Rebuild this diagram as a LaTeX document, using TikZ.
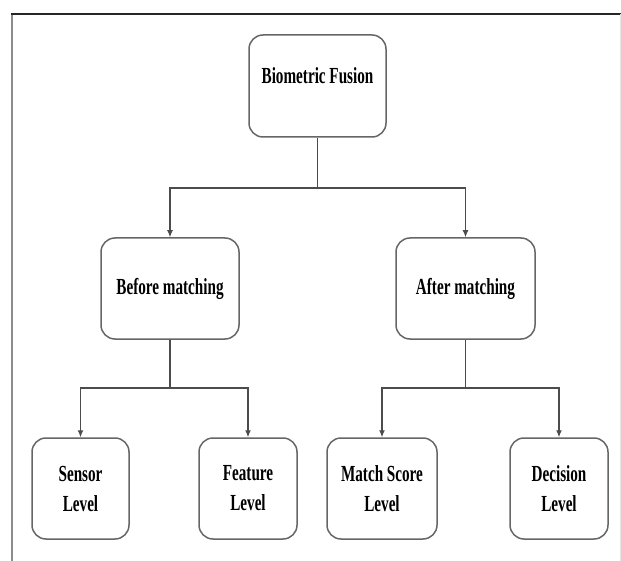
\documentclass[tikz,border=0pt]{standalone}
\usepackage{fontspec}
\newfontfamily\cf[FakeStretch=0.66]{Liberation Serif}
\usetikzlibrary{arrows.meta}
\tikzset{
  boxstyle/.style={draw=black!60, line width=1.5pt, rounded corners=14pt, inner sep=0pt,
    font=\cf\bfseries\fontsize{23}{30}\selectfont, align=center, text=black},
  arr/.style={draw=black!70, line width=1.2pt, -{Latex[length=7pt,width=6pt]}},
  ln/.style={draw=black!70, line width=1.2pt},
}
\begin{document}
\begin{tikzpicture}[x=1pt,y=-1pt]
\useasboundingbox (0,0) rectangle (621,561);
% frame
\draw[black!45, line width=2pt] (12,561) -- (12,14);
\draw[black!85, line width=1.6pt] (11,14) -- (621,14);
\draw[black!10, line width=1pt] (620,14) -- (620,561);
% boxes
\node[boxstyle, minimum width=137pt, minimum height=102pt,
  label={[font=\cf\bfseries\fontsize{23}{30}\selectfont, yshift=10pt]center:Biometric Fusion}] (bf) at (317.5,86) {};
\node[boxstyle, minimum width=138pt, minimum height=101pt] (bm) at (170,288.5) {Before matching};
\node[boxstyle, minimum width=139pt, minimum height=101pt] (am) at (465.5,288.5) {After matching};
\node[boxstyle, minimum width=97pt, minimum height=101pt] (sl) at (80.5,488.5) {Sensor\\Level};
\node[boxstyle, minimum width=98pt, minimum height=101pt] (fl) at (248,488.5) {Feature\\Level};
\node[boxstyle, minimum width=110pt, minimum height=101pt] (ms) at (382,488.5) {Match Score\\Level};
\node[boxstyle, minimum width=98pt, minimum height=101pt] (dl) at (559,488.5) {Decision\\Level};
% junctions
\coordinate (j1) at (317.5,188);
\coordinate (j2) at (170,388);
\coordinate (j3) at (465.5,388);
% connectors
\draw[ln] (bf.south) -- (j1);
\draw[arr] (j1) -| (bm.north);
\draw[arr] (j1) -| (am.north);
\draw[ln] (bm.south) -- (j2);
\draw[arr] (j2) -| (sl.north);
\draw[arr] (j2) -| (fl.north);
\draw[ln] (am.south) -- (j3);
\draw[arr] (j3) -| (ms.north);
\draw[arr] (j3) -| (dl.north);
\end{tikzpicture}
\end{document}
